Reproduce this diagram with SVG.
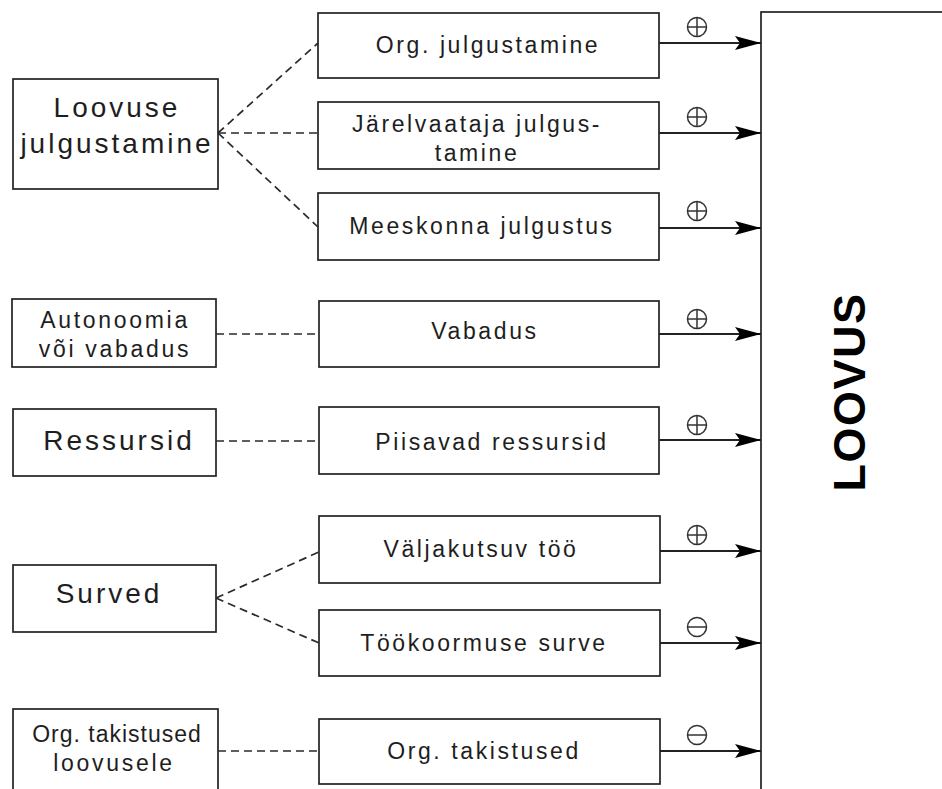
<svg xmlns="http://www.w3.org/2000/svg" width="942" height="789" viewBox="0 0 942 789">
  <defs>
    <style>
      .box { fill: #ffffff; stroke: #222; stroke-width: 1.7; }
      .t { font-family: "Liberation Sans", Arial, sans-serif; fill: #1e1e1e; text-anchor: middle; }
      .big { font-size: 28px; letter-spacing: 3px; }
      .mid { font-size: 23px; letter-spacing: 2.6px; }
      .sm { font-size: 23px; letter-spacing: 2.7px; }
      .dash { stroke: #2a2a2a; stroke-width: 1.7; stroke-dasharray: 8 5; fill: none; }
      .arr { stroke: #222; stroke-width: 1.8; fill: none; marker-end: url(#ah); }
      .sign { fill: none; stroke: #333; stroke-width: 1.5; }
      .title { font-family: "Liberation Sans", Arial, sans-serif; font-weight: bold; font-size: 45px; letter-spacing: 1.5px; fill: #000; text-anchor: middle; }
    </style>
    <marker id="ah" viewBox="0 0 26 14" refX="26" refY="7" markerWidth="26" markerHeight="14" markerUnits="userSpaceOnUse" orient="auto">
      <path d="M0,0 L26,7 L0,14 L5,7 Z" fill="#000"/>
    </marker>
    <g id="plus">
      <circle cx="0" cy="0" r="9.5" class="sign"/>
      <path d="M-9.5,0 H9.5 M0,-9.5 V9.5" class="sign"/>
    </g>
    <g id="minus">
      <circle cx="0" cy="0" r="9.5" class="sign"/>
      <path d="M-9.5,0 H9.5" class="sign"/>
    </g>
  </defs>

  <rect width="942" height="789" fill="#ffffff"/>

  <!-- Target -->
  <g id="loovus">
    <rect class="box" x="761" y="12" width="300" height="900"/>
    <text class="title" transform="translate(865,392) rotate(-90)">LOOVUS</text>
  </g>

  <!-- Left nodes -->
  <g id="n-loovuse-julgustamine">
    <rect class="box" x="13" y="79" width="205" height="110"/>
    <text class="t big" x="117" y="117">Loovuse</text>
    <text class="t big" x="117" y="153">julgustamine</text>
  </g>
  <g id="n-autonoomia">
    <rect class="box" x="12" y="299" width="204" height="68"/>
    <text class="t sm" x="115" y="328">Autonoomia</text>
    <text class="t sm" x="115" y="357">või vabadus</text>
  </g>
  <g id="n-ressursid">
    <rect class="box" x="13" y="409" width="203" height="67"/>
    <text class="t big" x="119" y="450">Ressursid</text>
  </g>
  <g id="n-surved">
    <rect class="box" x="13" y="565" width="203" height="67"/>
    <text class="t big" x="109" y="603">Surved</text>
  </g>
  <g id="n-org-takistused-loovusele">
    <rect class="box" x="13" y="709" width="205" height="110"/>
    <text class="t" style="font-size:23px;letter-spacing:1px" x="117" y="742">Org. takistused</text>
    <text class="t sm" x="114" y="771">loovusele</text>
  </g>

  <!-- Middle nodes -->
  <g id="m-org-julgustamine">
    <rect class="box" x="318" y="13" width="341" height="65"/>
    <text class="t mid" x="488" y="53">Org. julgustamine</text>
  </g>
  <g id="m-jarelvaataja">
    <rect class="box" x="318" y="102" width="341" height="67"/>
    <text class="t mid" x="477" y="132">Järelvaataja julgus-</text>
    <text class="t mid" x="477" y="161">tamine</text>
  </g>
  <g id="m-meeskonna">
    <rect class="box" x="318" y="193" width="341" height="67"/>
    <text class="t mid" x="482" y="234">Meeskonna julgustus</text>
  </g>
  <g id="m-vabadus">
    <rect class="box" x="319" y="301" width="340" height="66"/>
    <text class="t mid" x="485" y="339">Vabadus</text>
  </g>
  <g id="m-piisavad">
    <rect class="box" x="319" y="407" width="340" height="67"/>
    <text class="t mid" x="492" y="450">Piisavad ressursid</text>
  </g>
  <g id="m-valjakutsuv">
    <rect class="box" x="319" y="516" width="341" height="67"/>
    <text class="t mid" x="481" y="557">Väljakutsuv töö</text>
  </g>
  <g id="m-tookoormuse">
    <rect class="box" x="319" y="610" width="341" height="66"/>
    <text class="t mid" x="484" y="651">Töökoormuse surve</text>
  </g>
  <g id="m-org-takistused">
    <rect class="box" x="319" y="719" width="341" height="65"/>
    <text class="t mid" x="484" y="759">Org. takistused</text>
  </g>

  <!-- Connectors -->
  <g id="connectors">
    <path class="dash" d="M218,133 L318,43"/>
    <path class="dash" d="M218,133 L318,133"/>
    <path class="dash" d="M218,133 L318,227"/>
    <path class="dash" d="M216,334 L319,334"/>
    <path class="dash" d="M216,441 L319,441"/>
    <path class="dash" d="M216,598 L319,552"/>
    <path class="dash" d="M216,598 L319,643"/>
    <path class="dash" d="M218,751 L319,751"/>

    <path class="arr" d="M659,43 L761,43"/>
    <path class="arr" d="M659,133 L761,133"/>
    <path class="arr" d="M659,228 L761,228"/>
    <path class="arr" d="M659,334 L761,334"/>
    <path class="arr" d="M659,440 L761,440"/>
    <path class="arr" d="M660,551 L761,551"/>
    <path class="arr" d="M660,643 L761,643"/>
    <path class="arr" d="M660,751 L761,751"/>

    <use href="#plus" x="697" y="27"/>
    <use href="#plus" x="697" y="117"/>
    <use href="#plus" x="697" y="211"/>
    <use href="#plus" x="697" y="319"/>
    <use href="#plus" x="697" y="425"/>
    <use href="#plus" x="697" y="535"/>
    <use href="#minus" x="697" y="627"/>
    <use href="#minus" x="697" y="735"/>
  </g>
</svg>
